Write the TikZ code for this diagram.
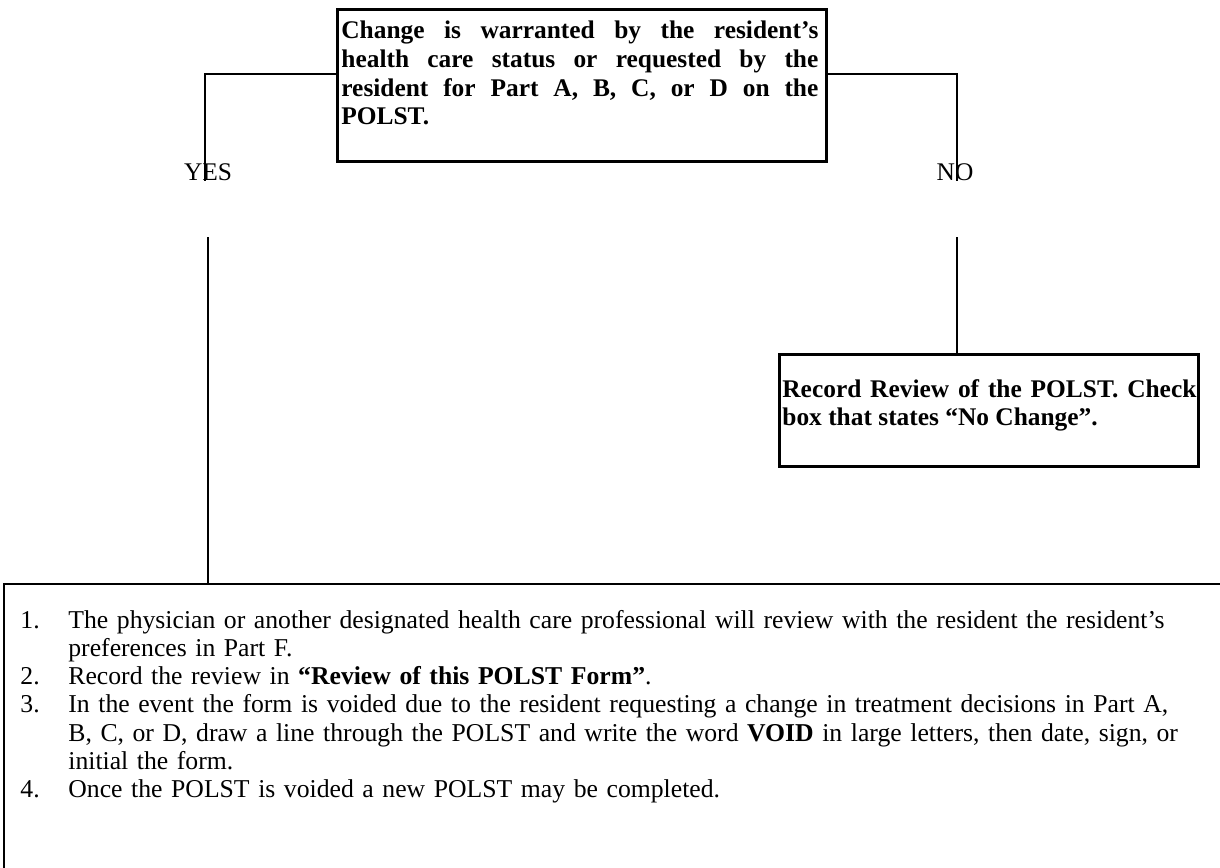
\documentclass[tikz,border=0pt]{standalone}
\usepackage{fontspec}
\setmainfont{Liberation Serif}
\begin{document}
\begin{tikzpicture}[x=0.5pt,y=-0.5pt,
  box/.style={draw, line width=1.6pt, inner sep=0pt},
  conn/.style={line width=1.2pt},
  lbl/.style={inner sep=0pt, font=\fontsize{12.7}{14}\selectfont},
  btext/.style={inner sep=0pt, align=justify, font=\fontsize{12.7}{14.25}\selectfont\bfseries},
  ltext/.style={inner sep=0pt, font=\fontsize{12.85}{14.15}\selectfont}]
\useasboundingbox (0,0) rectangle (1220,867);
\clip (0,0) rectangle (1220,867);
% top decision box
\node[box, minimum width=244.5pt, minimum height=76pt, anchor=north west] (topbox) at (336,8) {};
\node[btext, text width=238.5pt, anchor=base west] (toptext) at (341,39) {Change is warranted by the resident’s\linebreak health care status or requested by the\linebreak resident for Part A, B, C, or D on the\linebreak POLST.};
% labels
\node[lbl, anchor=base] (yes) at (208,180) {YES};
\node[lbl, anchor=base] (no) at (955,180) {NO};
\draw[conn] ([yshift=-33pt]topbox.north west) -| ([xshift=-1.5pt]yes.south);
\draw[conn] ([yshift=-33pt]topbox.north east) -| ([xshift=1pt]no.south);
% lower branches
\coordinate (yesstart) at (208,237);
\coordinate (nostart) at (957,237);
\node[box, minimum width=209.5pt, minimum height=56pt, anchor=north west] (nobox) at (778,353) {};
\node[btext, text width=207pt, anchor=base west] (notext) at (782,397) {Record Review of the POLST. Check\linebreak box that states “No Change”.};
\draw[conn] (nostart) -- (nostart |- nobox.north);
\node[draw, line width=0.8pt, inner sep=0pt, minimum width=620pt, minimum height=200pt, anchor=north west] (listbox) at (3,583) {};
\draw[conn] (yesstart) -- (yesstart |- listbox.north);
\node[ltext, text width=595pt, align=left, anchor=base west] (list) at (20,628) {%
\makebox[24pt][l]{1.}The physician or another designated health care professional will review with the resident the resident’s\\
\hspace*{24pt}preferences in Part F.\\
\makebox[24pt][l]{2.}Record the review in \textbf{“Review of this POLST Form”}.\\
\makebox[24pt][l]{3.}In the event the form is voided due to the resident requesting a change in treatment decisions in Part A,\\
\hspace*{24pt}B, C, or D, draw a line through the POLST and write the word \textbf{VOID} in large letters, then date, sign, or\\
\hspace*{24pt}initial the form.\\
\makebox[24pt][l]{4.}Once the POLST is voided a new POLST may be completed.};
\end{tikzpicture}
\end{document}
